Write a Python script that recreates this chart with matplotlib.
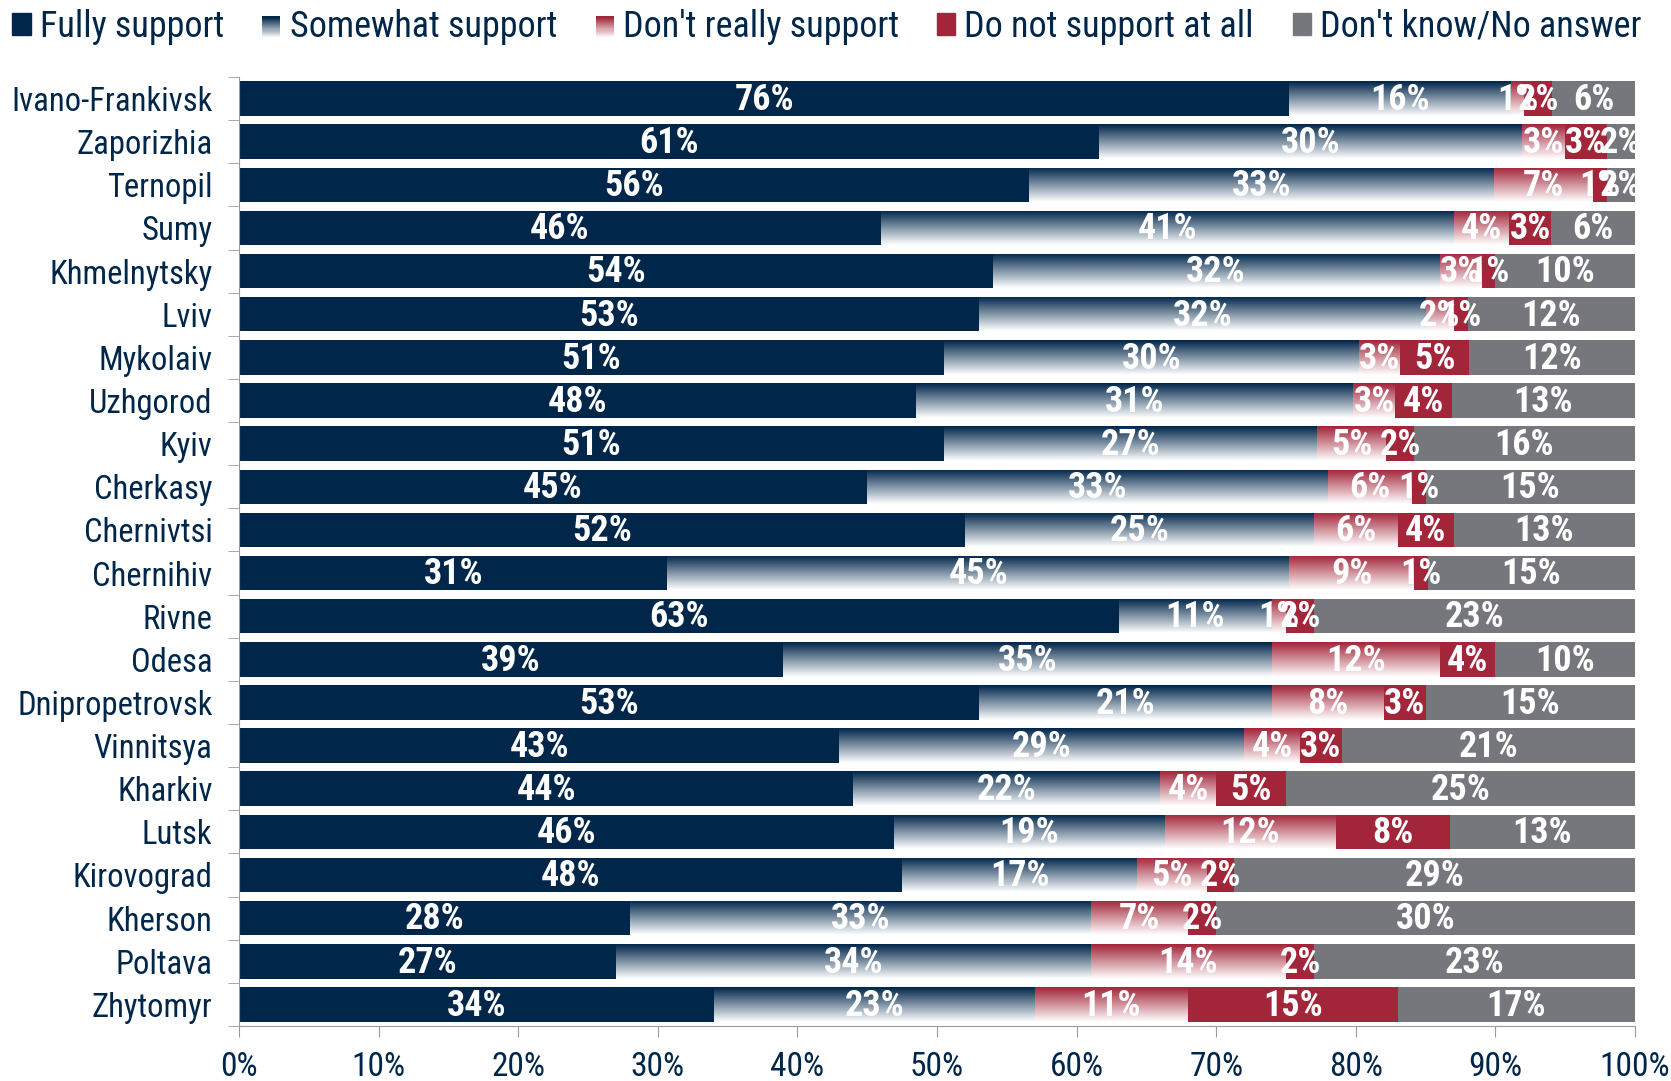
import matplotlib
matplotlib.use("Agg")
import matplotlib.pyplot as plt
from matplotlib import font_manager
from matplotlib.colors import LinearSegmentedColormap
from matplotlib.patches import Rectangle
from matplotlib.legend_handler import HandlerBase
import numpy as np

cities = ["Ivano-Frankivsk", "Zaporizhia", "Ternopil", "Sumy", "Khmelnytsky", "Lviv",
          "Mykolaiv", "Uzhgorod", "Kyiv", "Cherkasy", "Chernivtsi", "Chernihiv", "Rivne",
          "Odesa", "Dnipropetrovsk", "Vinnitsya", "Kharkiv", "Lutsk", "Kirovograd",
          "Kherson", "Poltava", "Zhytomyr"]
fully = [76, 61, 56, 46, 54, 53, 51, 48, 51, 45, 52, 31, 63, 39, 53, 43, 44, 46, 48, 28, 27, 34]
somewhat = [16, 30, 33, 41, 32, 32, 30, 31, 27, 33, 25, 45, 11, 35, 21, 29, 22, 19, 17, 33, 34, 23]
not_really = [1, 3, 7, 4, 3, 2, 3, 3, 5, 6, 6, 9, 1, 12, 8, 4, 4, 12, 5, 7, 14, 11]
not_at_all = [2, 3, 1, 3, 1, 1, 5, 4, 2, 1, 4, 1, 2, 4, 3, 3, 5, 8, 2, 2, 2, 15]
dont_know = [6, 2, 2, 6, 10, 12, 12, 13, 16, 15, 13, 15, 23, 10, 15, 21, 25, 13, 29, 30, 23, 17]

series = ["Fully support", "Somewhat support", "Don't really support",
          "Do not support at all", "Don't know/No answer"]

# a narrow face is closest to the original, fall back to Roboto
names = {f.name for f in font_manager.fontManager.ttflist}
pick = 'Roboto'
for cand in ['Roboto Condensed', 'Liberation Sans Narrow']:
    if cand in names:
        pick = cand
        break
plt.rcParams['font.family'] = [pick, 'DejaVu Sans']

NAVY = "#00264A"
RED = "#A3253A"
GRAY = "#76777C"
navy_grad = LinearSegmentedColormap.from_list("ng", [NAVY, "#ffffff"])
red_grad = LinearSegmentedColormap.from_list("rg", [RED, "#ffffff"])
styles = [NAVY, navy_grad, red_grad, RED, GRAY]


class GradHandler(HandlerBase):
    def __init__(self, cmap):
        super().__init__()
        self.cmap = cmap

    def create_artists(self, legend, orig, xd, yd, w, h, fs, trans):
        n = 20
        out = []
        for i in range(n):
            c = self.cmap(i / (n - 1))
            y = yd + h - (i + 1) * h / n
            out.append(Rectangle((xd, y), w, h / n + 0.3, facecolor=c, edgecolor='none',
                                 transform=trans))
        return out


data = np.array([fully, somewhat, not_really, not_at_all, dont_know], dtype=float)
shares = data / data.sum(axis=0) * 100

fig = plt.figure(figsize=(16.71, 10.81), dpi=100)
ax = fig.add_axes([0.143, 0.0509, 0.8355, 0.8779])

n = len(cities)
ypos = np.arange(n)[::-1]
grad = np.linspace(0, 1, 64).reshape(-1, 1)
left = np.zeros(n)
for k in range(5):
    st = styles[k]
    if isinstance(st, str):
        bars = ax.barh(ypos, shares[k], left=left, height=0.8, color=st, zorder=2)
    else:
        bars = ax.barh(ypos, shares[k], left=left, height=0.8, facecolor='none',
                       edgecolor='none', zorder=2)
        for b in bars:
            x0, y0 = b.get_x(), b.get_y()
            im = ax.imshow(grad, extent=[x0, x0 + b.get_width(), y0, y0 + b.get_height()],
                           origin='upper', aspect='auto', cmap=st, zorder=2,
                           interpolation='bilinear')
            im.set_clip_path(b)
    for i in range(n):
        ax.text(left[i] + shares[k][i] / 2, ypos[i] - 0.03, f"{int(data[k][i])}%",
                ha='center', va='center', color='white', fontsize=26,
                fontweight='bold', zorder=3)
    left += shares[k]

ax.set_xlim(0, 100)
ax.set_ylim(-0.5, n - 0.5)
ax.set_xticks(np.arange(0, 101, 10))
ax.set_xticklabels([f"{v}%" for v in range(0, 101, 10)])
ax.set_yticks(ypos)
ax.set_yticklabels(cities)
ax.set_yticks(np.arange(-0.5, n, 1), minor=True)
ax.tick_params(axis='y', which='major', length=0, pad=19, labelsize=23.5, labelcolor=NAVY)
ax.tick_params(axis='y', which='minor', length=8, color='#9a9a9a', direction='out')
ax.tick_params(axis='x', length=8, color='#9a9a9a', labelsize=24, labelcolor=NAVY, pad=10)
for s in ['top', 'right']:
    ax.spines[s].set_visible(False)
for s in ['left', 'bottom']:
    ax.spines[s].set_color('#9a9a9a')
ax.spines['left'].set_zorder(4)

handles = [Rectangle((0, 0), 1, 1, color=NAVY), Rectangle((0, 0), 1, 1, color='w'),
           Rectangle((0, 0), 1, 1, color='w'), Rectangle((0, 0), 1, 1, color=RED),
           Rectangle((0, 0), 1, 1, color=GRAY)]
hmap = {handles[1]: GradHandler(navy_grad), handles[2]: GradHandler(red_grad)}
leg = fig.legend(handles, series, loc='upper left', bbox_to_anchor=(-0.012, 1.022), ncol=5,
                 frameon=False, fontsize=26, handlelength=0.5, handleheight=0.55,
                 handletextpad=0.25, columnspacing=1.07, handler_map=hmap)
for t in leg.get_texts():
    t.set_color(NAVY)

fig.savefig("out.png", dpi=100)
